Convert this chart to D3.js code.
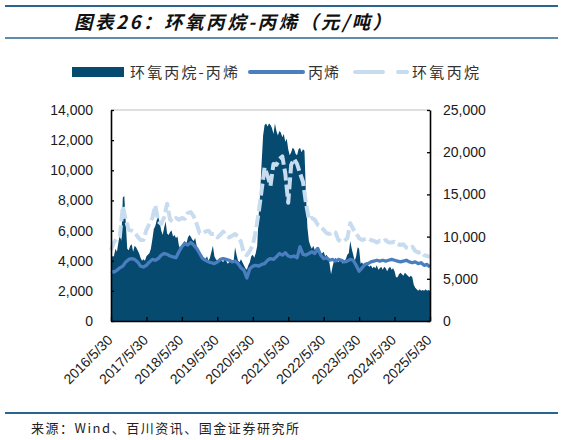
<!DOCTYPE html>
<html>
<head>
<meta charset="utf-8">
<script src="https://cdn.jsdelivr.net/npm/d3@7"></script>
<style>
  body { margin: 0; background: #fff; }
  svg { display: block; }
</style>
</head>
<body>
<div id="chart"></div>
<script>

// x-axis labels, one a year; the series start on 2016/5/30
var yearLabels = ['2016/5/30', '2017/5/30', '2018/5/30', '2019/5/30', '2020/5/30',
                  '2021/5/30', '2022/5/30', '2023/5/30', '2024/5/30', '2025/5/30'];

var seriesNames = ['环氧丙烷-丙烯', '丙烯', '环氧丙烷'];

// propylene price, monthly, right axis (元/吨)
var propylene = [
  5900, 5800, 6000, 6300, 6500, 7000, 7300, 7400, 7300, 7000,
  6500, 6400, 6600, 7000, 7300, 7200, 7400, 7800, 8000, 7900,
  7700, 7600, 7500, 8200, 8800, 9200, 9000, 9300, 9000, 8600,
  8000, 7400, 7200, 7000, 6900, 6800, 7000, 7300, 7400, 7300,
  7200, 7000, 7100, 6800, 6300, 6000, 5100, 6200, 6500, 6600,
  6500, 6700, 6800, 7200, 7400, 7300, 7600, 8000, 7800, 8100,
  7700, 7600, 7700, 7500, 8800, 7900, 7800, 8000, 8200, 8000,
  8600, 7800, 7400, 7500, 7200, 7300, 7100, 7300, 7200, 7000,
  7100, 7300, 7200, 6600, 5900, 6300, 6700, 6800, 7000, 7100,
  7200, 7100, 7200, 7100, 7200, 7300, 7200, 7100, 7000, 7100,
  7200, 7000, 6900, 7000, 6800, 6900, 6600, 6700, 6400
];

// propylene oxide price, monthly, right axis (元/吨)
var propyleneOxide = [
  8400, 9300, 9800, 10000, 13600, 12000, 10800, 10700, 10500, 10000,
  9600, 9600, 10800, 11500, 12200, 13700, 11800, 11500, 12300, 13900,
  12000, 11800, 12200, 12000, 12200, 12100, 12800, 12900, 12400, 11500,
  10400, 10400, 10600, 10700, 10300, 10300, 9900, 10200, 10600, 10100,
  9900, 10100, 10300, 10000, 9400, 8000, 7800, 8300, 9000, 10600,
  12900, 15500, 18200, 17200, 16000, 18600, 18500, 19200, 19500, 17500,
  14000, 18500, 19200, 18600, 17500, 16500, 14000, 12000, 12200, 12000,
  11400, 11200, 10800, 10400, 10300, 10600, 10500, 9600, 9400, 9500,
  9800, 11600, 10900, 10400, 9800, 9600, 9700, 9800, 9600, 9500,
  9300, 9500, 9400, 9600, 9300, 9300, 9400, 9100, 9000, 9100,
  8700, 8600, 8800, 8300, 8100, 8200, 7800, 7700, 7600
];

// spread, two readings a month, left axis (元/吨)
var spread = [
  4200, 4300, 4300, 4800, 4600, 5200, 5800, 5300, 8200, 8300, 6500, 4800, 4700, 5000, 5100, 4600, 5000, 4900, 4700, 4500,
  4200, 4000, 4100, 4000, 4300, 4400, 4500, 4800, 5400, 6100, 6300, 6700, 6900, 6500, 6000, 5700, 6200, 6600, 5800, 5700,
  5900, 6000, 5600, 5700, 5500, 5600, 5000, 4800, 5000, 5200, 5300, 5100, 5500, 5700, 5600, 5400, 5300, 5500, 5000, 4600,
  4500, 4300, 4200, 4000, 4100, 4300, 4000, 4200, 4600, 5000, 4300, 4100, 4000, 3900, 4100, 4000, 3900, 4200, 4000, 3800,
  3900, 4100, 4000, 3900, 4900, 4400, 4000, 3900, 4100, 3900, 3700, 3500, 3400, 3700, 3900, 4300, 4400, 4200, 4500, 5000,
  7000, 8500, 10500, 12300, 13000, 13100, 12900, 13100, 13000, 12800, 12400, 13100, 12600, 12300, 12600, 12500, 12200, 12400, 11900, 12100,
  11400, 11000, 11200, 11500, 11400, 11100, 11000, 11400, 11500, 11200, 11400, 11300, 8400, 6200, 5300, 5000, 4800, 5000, 4700, 4900,
  4600, 4800, 4400, 4500, 4600, 4300, 4400, 4200, 3800, 3100, 3600, 4000, 4200, 4000, 3900, 4100, 4000, 3800, 4000, 4100,
  4400, 4500, 5300, 4800, 4400, 4000, 4300, 4900, 4800, 3800, 3900, 3700, 3800, 3900, 3700, 3600, 3700, 3500, 3600, 3500,
  3700, 3400, 3500, 3600, 3400, 3600, 3500, 3300, 3500, 3600, 3400, 3500, 3300, 2900, 2900, 3100, 3200, 3100, 3000, 3200,
  3100, 3000, 2900, 3000, 2900, 2400, 2200, 2100, 2000, 2100, 2000, 2050, 2000, 2100, 2000, 2050, 2000
];

var leftTicks = [0, 2000, 4000, 6000, 8000, 10000, 12000, 14000];
var rightTicks = [0, 5000, 10000, 15000, 20000, 25000];

var width = 563, height = 440;
var plot = { left: 111, right: 430, top: 110, bottom: 321 };

var colors = {
  spread: '#064a70',
  propylene: '#4a7ebf',
  oxide: '#c8dcef',
  rule: '#2a6592'
};

var cjk = '"Noto Sans CJK SC", sans-serif';
var latin = '"Liberation Sans", Arial, sans-serif';

var svg = d3.select('#chart').append('svg')
  .attr('width', width)
  .attr('height', height);

/**
 * Header and footer.
 **/
svg.append('line')
  .attr('x1', 5).attr('x2', 558).attr('y1', 6).attr('y2', 6)
  .attr('stroke', colors.rule).attr('stroke-width', 2);

svg.append('text')
  .text('图表26：环氧丙烷-丙烯（元/吨）')
  .attr('x', 74).attr('y', 29)
  .attr('textLength', 317).attr('lengthAdjust', 'spacing')
  .style('font-family', cjk)
  .style('font-size', '18.5px')
  .style('font-weight', 'bold')
  .style('font-style', 'italic')
  .attr('fill', '#111');

svg.append('line')
  .attr('x1', 5).attr('x2', 558).attr('y1', 38).attr('y2', 38)
  .attr('stroke', colors.rule).attr('stroke-width', 1.5);

svg.append('line')
  .attr('x1', 5).attr('x2', 558).attr('y1', 413).attr('y2', 413)
  .attr('stroke', colors.rule).attr('stroke-width', 2);

svg.append('text')
  .text('来源：Wind、百川资讯、国金证券研究所')
  .attr('x', 31).attr('y', 433)
  .attr('textLength', 268).attr('lengthAdjust', 'spacing')
  .style('font-family', cjk)
  .style('font-size', '13px')
  .attr('fill', '#222');

/**
 * Scales.
 **/
var x = d3.scaleLinear()
  .domain([0, propylene.length - 1])
  .range([plot.left, plot.right]);

var yLeft = d3.scaleLinear()
  .domain([0, 14000])
  .range([plot.bottom, plot.top]);

var yRight = d3.scaleLinear()
  .domain([0, 25000])
  .range([plot.bottom, plot.top]);

// top border of the plot
svg.append('line')
  .attr('x1', plot.left).attr('x2', plot.right)
  .attr('y1', yLeft(14000)).attr('y2', yLeft(14000))
  .attr('stroke', '#bfbfbf').attr('stroke-width', 1);

/**
 * Series.
 **/
var area = d3.area()
  .x(function(d, j) { return x(j / 2); })
  .y0(yLeft(0))
  .y1(function(d) { return yLeft(d); });

svg.append('path')
  .datum(spread)
  .attr('d', area)
  .attr('fill', colors.spread);

var line = d3.line()
  .x(function(d, i) { return x(i); })
  .y(function(d) { return yRight(d); });

svg.append('path')
  .datum(propyleneOxide)
  .attr('d', line)
  .attr('fill', 'none')
  .attr('stroke', colors.oxide)
  .attr('stroke-width', 4)
  .attr('stroke-dasharray', '12, 4')
  .attr('stroke-linejoin', 'round');

svg.append('path')
  .datum(propylene)
  .attr('d', line)
  .attr('fill', 'none')
  .attr('stroke', colors.propylene)
  .attr('stroke-width', 3.3)
  .attr('stroke-linejoin', 'round');

/**
 * Axes.
 **/
function styleAxis(g) {
  g.select('.domain').attr('stroke', '#000').attr('stroke-width', 1.6);
  g.selectAll('.tick line').attr('stroke', '#000').attr('stroke-width', 1.3);
  g.selectAll('.tick text')
    .attr('fill', '#1a1a1a')
    .style('font-family', latin)
    .style('font-size', '14px');
}

svg.append('g')
  .attr('transform', 'translate(' + plot.left + ',0)')
  .call(d3.axisLeft(yLeft)
    .tickValues(leftTicks)
    .tickFormat(d3.format(','))
    .tickSizeInner(-3)
    .tickSizeOuter(0)
    .tickPadding(18))
  .call(styleAxis);

svg.append('g')
  .attr('transform', 'translate(' + plot.right + ',0)')
  .call(d3.axisRight(yRight)
    .tickValues(rightTicks)
    .tickFormat(d3.format(','))
    .tickSizeInner(-3)
    .tickSizeOuter(0)
    .tickPadding(13))
  .call(styleAxis);

var xAxis = svg.append('g')
  .attr('transform', 'translate(0,' + plot.bottom + ')')
  .call(d3.axisBottom(x)
    .tickValues(d3.range(0, propylene.length, 12))
    .tickFormat(function(d, i) { return yearLabels[i]; })
    .tickSizeInner(-4)
    .tickSizeOuter(0))
  .call(styleAxis);

xAxis.selectAll('.tick text')
  .attr('text-anchor', 'end')
  .attr('x', 2)
  .attr('y', 20)
  .attr('dy', 0)
  .attr('transform', 'rotate(-45, 2, 20)');

/**
 * Legend.
 **/
var legend = svg.append('g')
  .style('font-family', cjk)
  .style('font-size', '15px');

legend.append('rect')
  .attr('x', 72).attr('y', 67).attr('width', 52).attr('height', 10)
  .attr('fill', colors.spread);

legend.append('line')
  .attr('x1', 250).attr('x2', 303).attr('y1', 72).attr('y2', 72)
  .attr('stroke', colors.propylene).attr('stroke-width', 4)
  .attr('stroke-linecap', 'round');

legend.append('line')
  .attr('x1', 355).attr('x2', 407).attr('y1', 72).attr('y2', 72)
  .attr('stroke', colors.oxide).attr('stroke-width', 4)
  .attr('stroke-linecap', 'round')
  .attr('stroke-dasharray', '28, 15');

var legendText = [
  { x: 130, w: 108 },
  { x: 308, w: 31 },
  { x: 412, w: 67 }
];

legend.selectAll('text.label').data(legendText).enter()
  .append('text')
    .classed('label', true)
    .text(function(d, i) { return seriesNames[i]; })
    .attr('x', function(d) { return d.x; })
    .attr('y', 77.5)
    .attr('textLength', function(d) { return d.w; })
    .attr('lengthAdjust', 'spacing')
    .attr('fill', '#333');

</script>
</body>
</html>
